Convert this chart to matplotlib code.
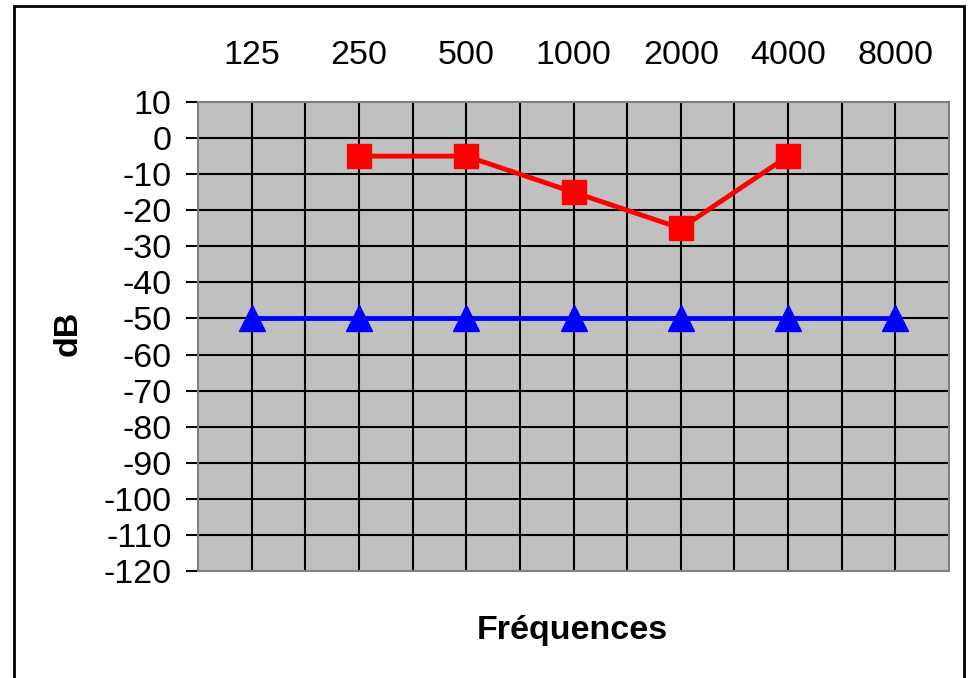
import numpy as np
import matplotlib
matplotlib.use('Agg')
from matplotlib import pyplot as plt
from matplotlib.patches import Rectangle

plt.rcParams['font.family'] = ['Liberation Sans', 'DejaVu Sans']

freqs = ['125', '250', '500', '1000', '2000', '4000', '8000']
red_db = [np.nan, -5, -5, -15, -25, -5, np.nan]
blue_db = [-50, -50, -50, -50, -50, -50, -50]
y_ticks = list(range(10, -121, -10))

fig = plt.figure(figsize=(9.68, 6.78), dpi=100)
ax = fig.add_axes([198 / 968, 1 - 571 / 678, 751 / 968, 469 / 678])

x = np.arange(len(freqs)) + 0.5
ax.set_facecolor('#C0C0C0')

# grid every half category, every 10 dB
for gx in np.arange(0.5, len(freqs), 0.5):
    ax.axvline(gx, color='black', lw=1.5, zorder=1)
for gy in y_ticks[1:-1]:
    ax.axhline(gy, color='black', lw=1.5, zorder=1)

ax.plot(x, red_db, color='#FF0000', lw=3.5, marker='s', ms=17, zorder=3)
ax.plot(x, blue_db, color='#0000FF', lw=3.5, marker='^', ms=19, zorder=3)

ax.set_xlim(0, len(freqs))
ax.set_ylim(-120, 10)
ax.set_yticks(y_ticks)
ax.set_yticklabels([str(v) for v in y_ticks], fontsize=24.5)
ax.tick_params(axis='y', length=9, width=1.5, pad=10, color='black')

ax.xaxis.tick_top()
ax.set_xticks(x)
ax.set_xticklabels(freqs, fontsize=24.5)
ax.tick_params(axis='x', length=0, pad=22)

for s in ax.spines.values():
    s.set_color('#808080')
    s.set_linewidth(1.5)

fig.text(68 / 968, 1 - 333 / 678, 'dB', rotation=90, fontsize=24.5,
         fontweight='bold', ha='center', va='center')
fig.text(572 / 968, 1 - 630 / 678, 'Fréquences', fontsize=24.5,
         fontweight='bold', ha='center', va='center')

fig.patches.append(Rectangle((14 / 968, -0.05), 950 / 968, 1.05 - 6 / 678,
                             transform=fig.transFigure, fill=False,
                             edgecolor='black', lw=2))

fig.savefig('out.png', dpi=100)
